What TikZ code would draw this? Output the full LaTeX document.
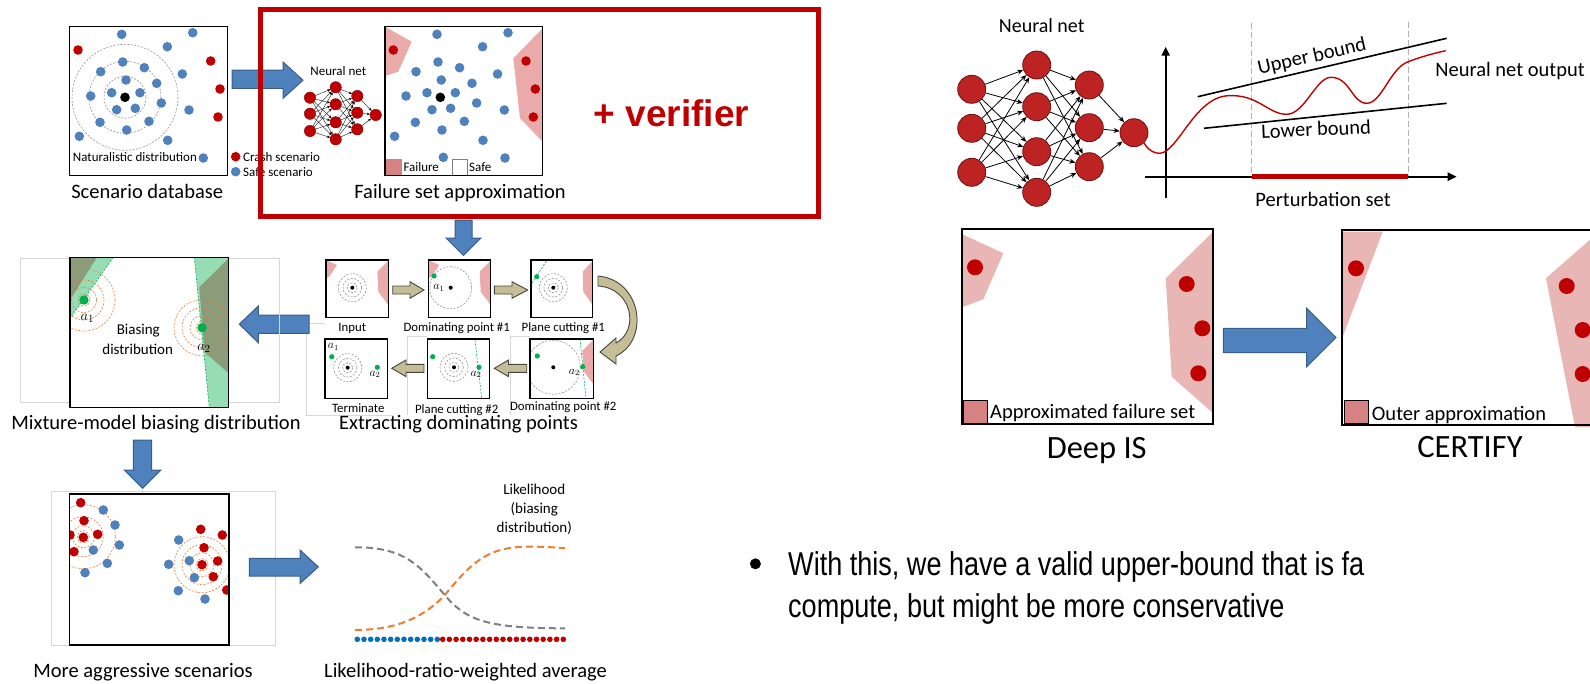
\documentclass[tikz,border=0pt]{standalone}
\usepackage{fontspec}
\setmainfont{Carlito}
\newfontfamily\arialf{Liberation Sans}
\usetikzlibrary{arrows.meta}
\definecolor{dblue}{RGB}{79,129,189}
\definecolor{dred}{RGB}{192,0,0}
\definecolor{pinkf}{RGB}{234,170,170}
\definecolor{pinkr}{RGB}{232,182,180}
\definecolor{pinkl}{RGB}{214,130,130}
\definecolor{aedge}{RGB}{56,93,138}
\definecolor{khaki}{RGB}{196,189,151}
\definecolor{khakiedge}{RGB}{70,70,60}
\definecolor{nnred}{RGB}{190,35,35}
\definecolor{nnborder}{RGB}{110,15,15}
\definecolor{glight}{RGB}{150,220,180}
\definecolor{gdark}{RGB}{138,156,122}
\definecolor{gdot}{RGB}{0,176,80}
\definecolor{orng}{RGB}{237,125,49}
\definecolor{frameg}{RGB}{215,215,215}
\definecolor{rowblue}{RGB}{0,112,192}
\newcommand\fsz[1]{\fontsize{#1}{#1}\selectfont}
\begin{document}
\begin{tikzpicture}[x=1pt,y=-1pt,
 cdash/.style={draw=gray!85, line width=0.6, dash pattern=on 2pt off 1.5pt},
 odash/.style={draw=orng, line width=0.6, dash pattern=on 2pt off 1.5pt},
 gline/.style={draw=gdot, line width=0.6, dash pattern=on 2pt off 1.5pt},
 box/.style={draw=black, line width=1.4},
 sbox/.style={draw=black, line width=1.2},
 frame/.style={draw=frameg, line width=0.7},
 barrow/.style={fill=dblue, draw=aedge, line width=1},
 karrow/.style={fill=khaki, draw=khakiedge, line width=0.9},
 lbl/.style={inner sep=0, anchor=base},
 nn/.style={circle, fill=dred, draw=dred!70!black, line width=0.4, inner sep=0, minimum size=11.4},
 bignn/.style={circle, fill=nnred, draw=nnborder, line width=0.8, inner sep=0, minimum size=28},
 nnline/.style={draw=black, line width=0.35, -{Stealth[length=3pt,width=2.6pt]}},
 bnnline/.style={draw=black, line width=0.8, -{Stealth[length=6pt,width=5pt]}},
]
\useasboundingbox (0,0) rectangle (1590,683);
\clip (0,0) rectangle (1590,683);

% ================= Scenario database
\fill[white] (69.3,26.7) rectangle (227.7,175.7);
\foreach \r in {21,36,53} \draw[cdash] (125,97.3) circle[radius=\r];
\foreach \p in {(121.7,34.3),(192.7,32.7),(167.3,46.7),(122.7,62),(100.7,71.7),(144.3,67.7),(182.3,74),(126,80),(156.7,83.3),(111.7,92.7),(140,92.7),(90.7,96),(161.3,103),(116.7,109.7),(135.3,108.3),(189,110),(100,122.3),(149,121.3),(126.7,130),(79.3,136.3),(167.7,140.3),(203.3,158)}
  \fill[dblue] \p circle[radius=4.8];
\foreach \p in {(78,50),(210.7,61),(220,89),(218,117)} \fill[dred] \p circle[radius=4.8];
\fill[black] (125,97.3) circle[radius=4.8];
\node[lbl, anchor=base west, font=\fsz{13}] (natdist) at (72.7,161) {Naturalistic distribution};
\draw[box] (69.3,26.7) rectangle (227.7,175.7);
\fill[dred] (235.7,156.7) circle[radius=4.8];
\fill[dblue] (235.7,171.7) circle[radius=4.8];
\node[lbl, anchor=base west, font=\fsz{13}] (crash) at (243,161.3) {Crash scenario};
\node[lbl, anchor=base west, font=\fsz{13}] (safesc) at (243,176) {Safe scenario};
\node[lbl, font=\fsz{20.5}] (scdb) at (147.2,198) {Scenario database};

\draw[barrow] (232,70) -- (283,70) -- (283,62) -- (303,80.2) -- (283,98.3) -- (283,88.3) -- (232,88.3) -- cycle;

% ================= small neural net
\node[lbl, font=\fsz{13}] (nnlab) at (338.3,75) {Neural net};
\foreach \i/\y in {1/97.7,2/113.7,3/131} \node[nn] (a\i) at (310,\y) {};
\foreach \i/\y in {1/87.3,2/104.3,3/122.3,4/139.3} \node[nn] (b\i) at (335.7,\y) {};
\foreach \i/\y in {1/96,2/112.7,3/129.3} \node[nn] (c\i) at (357.3,\y) {};
\node[nn] (d1) at (375.7,115) {};
\foreach \i in {1,2,3} \foreach \j in {1,2,3,4} \draw[nnline] (a\i) -- (b\j);
\foreach \i in {1,2,3,4} \foreach \j in {1,2,3} \draw[nnline] (b\i) -- (c\j);
\foreach \i in {1,2,3} \draw[nnline] (c\i) -- (d1);

% ================= Failure set approximation
\fill[white] (385,26.7) rectangle (542.7,175.7);
\fill[pinkf] (385,26.7) -- (411.7,41.7) -- (398.3,71.7) -- (385,76) -- cycle;
\fill[pinkf] (542.7,28.3) -- (513.3,58.3) -- (520,118.3) -- (542.7,141.7) -- cycle;
\begin{scope}[shift={(315.3,0)}]
\foreach \p in {(121.7,34.3),(192.7,32.7),(167.3,46.7),(122.7,62),(100.7,71.7),(144.3,67.7),(182.3,74),(126,80),(156.7,83.3),(111.7,92.7),(140,92.7),(90.7,96),(161.3,103),(116.7,109.7),(135.3,108.3),(189,110),(100,122.3),(149,121.3),(126.7,130),(79.3,136.3),(167.7,140.3)}
  \fill[dblue] \p circle[radius=4.8];
\foreach \p in {(78,50),(210.7,61),(220,89),(218,117)} \fill[dred] \p circle[radius=4.8];
\fill[black] (125,97.3) circle[radius=4.8];
\end{scope}
\fill[dblue] (443.3,157.3) circle[radius=4.8];
\fill[dblue] (505,158) circle[radius=4.8];
\fill[pinkl] (386,159.3) rectangle (401.7,175);
\draw[gray, line width=0.8, fill=white] (452.7,159.3) rectangle (467.3,175);
\node[lbl, anchor=base west, font=\fsz{13}] (failleg) at (403.3,171) {Failure};
\node[lbl, anchor=base west, font=\fsz{13}] (safeleg) at (469,171) {Safe};
\draw[box] (385,26.7) rectangle (542.7,175.7);
\node[lbl, font=\fsz{20.5}] (fsa) at (460,198) {Failure set approximation};

% ================= verifier box
\draw[dred, line width=5] (260.5,9) rectangle (818,216.5);
\node[lbl, font=\arialf\bfseries\fsz{37}, text=dred] (verif) at (671.5,126) {+ verifier};

\draw[barrow] (455,220) -- (472,220) -- (472,238) -- (481,238) -- (463.5,255.5) -- (446,238) -- (455,238) -- cycle;

% ================= Extracting dominating points
\draw[frame] (325,323.3) -- (306.7,323.3) -- (306.7,415) -- (393,415);
\draw[frame] (427.3,336.7) -- (407.3,336.7) -- (407.3,415);
\draw[frame] (530,336.7) -- (510,336.7) -- (510,415);

% Input
\begin{scope}[shift={(326,260)}]
\fill[white] (0,0) rectangle (62.3,57.7);
\fill[pinkf] (0,0) -- (11,5) -- (3,17) -- (0,18) -- cycle;
\fill[pinkf] (62.3,0.7) -- (51.3,11.7) -- (52.3,31.7) -- (62.3,45) -- cycle;
\foreach \r in {14,9.3,5} \draw[cdash] (26.3,27.7) circle[radius=\r];
\fill (26.3,27.7) circle[radius=2];
\draw[sbox] (0,0) rectangle (62.3,57.7);
\end{scope}
% Dominating point #1
\begin{scope}[shift={(428.3,260)}]
\fill[white] (0,0) rectangle (62.4,57.7);
\fill[pinkf] (0,0) -- (11,5) -- (3,17) -- (0,18) -- cycle;
\fill[pinkf] (62.4,0.7) -- (51.4,11.7) -- (52.4,31.7) -- (62.4,45) -- cycle;
\begin{scope}\clip (0,0) rectangle (62.4,57.7);
\draw[cdash] (22.4,27.7) circle[radius=21];
\end{scope}
\fill (22.4,27.7) circle[radius=2];
\fill[gdot] (5.7,16) circle[radius=2.6];
\node[inner sep=0, font=\fsz{12}] (da1) at (10.5,27.7) {$a_1$};
\draw[sbox] (0,0) rectangle (62.4,57.7);
\end{scope}
% Plane cutting #1
\begin{scope}[shift={(531,260)}]
\fill[white] (0,0) rectangle (61.7,57.7);
\fill[pinkf] (61.7,0.7) -- (51.7,11.7) -- (52.3,31.7) -- (61.7,45) -- cycle;
\draw[gline] (0.7,23.3) -- (15.7,0.7);
\fill[gdot] (5.7,16.7) circle[radius=2.6];
\foreach \r in {14,9.3,5} \draw[cdash] (22.3,27.7) circle[radius=\r];
\fill (22.3,27.7) circle[radius=2];
\draw[sbox] (0,0) rectangle (61.7,57.7);
\end{scope}
% Terminate
\begin{scope}[shift={(325,339)}]
\fill[white] (0,0) rectangle (62.7,59.3);
\node[inner sep=0, font=\fsz{12}] (ta1) at (8.3,8.3) {$a_1$};
\fill[gdot] (6.7,17.7) circle[radius=2.6];
\foreach \r in {14,9.3,5} \draw[cdash] (22.7,28.7) circle[radius=\r];
\fill (22.7,28.7) circle[radius=2];
\fill[gdot] (52.3,28.3) circle[radius=2.6];
\node[inner sep=0, font=\fsz{12}] (ta2) at (50,35.5) {$a_2$};
\draw[sbox] (0,0) rectangle (62.7,59.3);
\end{scope}
% Plane cutting #2
\begin{scope}[shift={(427.3,339)}]
\fill[white] (0,0) rectangle (62,59.3);
\fill[gdot] (5.4,17.7) circle[radius=2.6];
\foreach \r in {14,9.3,5} \draw[cdash] (26.7,28.3) circle[radius=\r];
\fill (26.7,28.3) circle[radius=2];
\draw[gline] (47.7,1) -- (54.4,59.3);
\fill[gdot] (51.7,28.3) circle[radius=2.6];
\node[inner sep=0, font=\fsz{12}] (pa2) at (48.7,35.5) {$a_2$};
\draw[sbox] (0,0) rectangle (62,59.3);
\end{scope}
% Dominating point #2
\begin{scope}[shift={(530,339)}]
\fill[white] (0,0) rectangle (63.3,59.3);
\fill[pinkf] (63.3,0.7) -- (52.3,11.7) -- (53.3,31.7) -- (63.3,45) -- cycle;
\begin{scope}\clip (0,0) rectangle (63.3,59.3);
\draw[cdash] (23.3,28.3) circle[radius=27];
\end{scope}
\fill (23.3,28.3) circle[radius=2];
\fill[gdot] (7.3,17) circle[radius=2.6];
\draw[gline] (50,0) -- (56,59.3);
\fill[gdot] (52.7,27.7) circle[radius=2.6];
\node[inner sep=0, font=\fsz{12}] (qa2) at (44.3,33.5) {$a_2$};
\draw[sbox] (0,0) rectangle (63.3,59.3);
\end{scope}

\node[lbl, font=\fsz{12.8}] (linput) at (352.3,331.5) {Input};
\node[lbl, font=\fsz{12.8}] (ldom1) at (456.7,331.5) {Dominating point \#1};
\node[lbl, font=\fsz{12.8}] (lpc1) at (563.3,331.5) {Plane cutting \#1};
\node[lbl, font=\fsz{12.8}] (lterm) at (358.3,412.3) {Terminate};
\node[lbl, font=\fsz{12.8}] (lpc2) at (456.7,413.3) {Plane cutting \#2};
\node[lbl, font=\fsz{12.8}] (ldom2) at (563.3,410.8) {Dominating point \#2};
\node[lbl, font=\fsz{20.5}] (lextract) at (458.5,429.5) {Extracting dominating points};

% khaki arrows
\draw[karrow] (392.7,286) -- (410,286) -- (410,281.7) -- (424,290) -- (410,298.3) -- (410,294) -- (392.7,294) -- cycle;
\draw[karrow] (494.3,286) -- (512,286) -- (512,281.7) -- (527.7,290) -- (512,298.3) -- (512,294) -- (494.3,294) -- cycle;
\draw[karrow] (526.7,364.3) -- (508.5,364.3) -- (508.5,360) -- (494.3,368.3) -- (508.5,376.6) -- (508.5,372.3) -- (526.7,372.3) -- cycle;
\draw[karrow] (424,364.3) -- (406,364.3) -- (406,360) -- (391.7,368.3) -- (406,376.6) -- (406,372.3) -- (424,372.3) -- cycle;
% curved arrow
\draw[karrow] (598,286) .. controls (632,288) and (640,330) .. (616,343) -- (616,338) -- (600,352) -- (616,364) -- (616,356) .. controls (650,340) and (642,280) .. (598,276) -- cycle;

% left arrow to biasing distribution
\draw[barrow] (309,315) -- (258.3,315) -- (258.3,306) -- (239.3,324.2) -- (258.3,342.7) -- (258.3,333.3) -- (309,333.3) -- cycle;

% ================= Mixture-model biasing distribution
\draw[frame] (20.7,258.3) rectangle (279.3,402.7);
\fill[white] (70,257.3) rectangle (228.7,407.3);
\begin{scope}
\clip (70,257.3) rectangle (228.7,407.3);
\fill[glight] (70,257.3) -- (113.3,257.3) -- (70,318.3) -- cycle;
\fill[gdark] (70,257.3) -- (97,257.3) -- (70,300) -- cycle;
\fill[glight] (194.3,257.3) -- (228.7,257.3) -- (228.7,407.3) -- (209.3,407.3) -- cycle;
\fill[gdark] (199.3,287.3) -- (228.7,258.3) -- (228.7,373.3) -- (204.5,352) -- cycle;
\draw[gline] (113.3,257.3) -- (70,318.3);
\draw[gline] (194.3,257.3) -- (209.3,407.3);
\foreach \r in {31,20,12.7,6} \draw[odash] (84,300) circle[radius=\r];
\foreach \r in {28,20,12,6} \draw[odash] (202,327.7) circle[radius=\r];
\end{scope}
\fill[gdot] (84,300) circle[radius=4.7];
\fill[gdot] (202,327.7) circle[radius=4.7];
\node[inner sep=0, font=\fsz{15}] (ba1) at (87.3,318.3) {$a_1$};
\node[inner sep=0, font=\fsz{15}] (ba2) at (204,348.3) {$a_2$};
\node[lbl, font=\fsz{15}] (lbias1) at (138.3,334.8) {Biasing};
\node[lbl, font=\fsz{15}] (lbias2) at (137.7,354.2) {distribution};
\draw[box] (70,257.3) rectangle (228.7,407.3);
\node[lbl, font=\fsz{20.5}] (lmix) at (156,429.5) {Mixture-model biasing distribution};

\draw[barrow] (133.3,440) -- (151.7,440) -- (151.7,470) -- (161,470) -- (142.7,488.3) -- (124.3,470) -- (133.3,470) -- cycle;

% ================= More aggressive scenarios
\draw[frame] (51.7,491) rectangle (275,645);
\fill[white] (69.3,494) rectangle (229,645);
\begin{scope}
\clip (69.3,494) rectangle (229,645);
\foreach \r in {32,20,11,6} \draw[odash] (83.3,536.7) circle[radius=\r];
\foreach \r in {28,20,12,6} \draw[odash] (202,564.7) circle[radius=\r];
\foreach \p in {(103.3,510),(115,525),(119.3,545),(93.3,550),(107.3,563.3),(85,572.7),(178.7,540),(189.3,560.7),(168.7,564.3),(194.3,577.7),(178.3,590.7),(205,599)}
  \fill[dblue] \p circle[radius=4.8];
\foreach \p in {(80.7,502.7),(84,520.7),(70,535),(97.7,534.3),(83.3,537.3),(74,551.7),(200.7,529.3),(222.3,535),(204,547.7),(217.7,561),(202,564.7),(213.3,576.7),(226.7,590)}
  \fill[dred] \p circle[radius=4.8];
\end{scope}
\draw[box] (69.3,494) rectangle (229,645);
\node[lbl, font=\fsz{20.5}] (laggr) at (143,677) {More aggressive scenarios};

\draw[barrow] (249.3,558.3) -- (300,558.3) -- (300,550) -- (318.3,566.9) -- (300,583.5) -- (300,576) -- (249.3,576) -- cycle;

% ================= Likelihood plot
\draw[gray, line width=2, dash pattern=on 7pt off 4pt] (355,547.3) .. controls (405,547) and (420,566) .. (443.3,593.3) .. controls (465,620) and (485,628.3) .. (565,628.3);
\draw[orng, line width=2, dash pattern=on 7pt off 4pt] (355,630) .. controls (400,630) and (425,615) .. (443.3,596.7) .. controls (470,565) and (485,547) .. (526.7,546.7) .. controls (545,546.5) and (555,547.5) .. (565,548.3);
\foreach \k in {0,...,12} \fill[rowblue] (357.3+6.667*\k,639.3) circle[radius=2.8];
\foreach \k in {0,...,18} \fill[dred] (442.7+6.7*\k,639.3) circle[radius=2.8];
\node[lbl, font=\fsz{15}] (lik1) at (534.3,494.5) {Likelihood};
\node[lbl, font=\fsz{15}] (lik2) at (534.3,513.5) {(biasing};
\node[lbl, font=\fsz{15}] (lik3) at (534.3,532.5) {distribution)};
\node[lbl, font=\fsz{20.5}] (llr) at (465.5,677) {Likelihood-ratio-weighted average};

% ================= Right: neural net and bounds
\node[lbl, font=\fsz{20}] (rnnlab) at (1041.7,32.5) {Neural net};
\foreach \i/\y in {1/89.3,2/128.3,3/172.3} \node[bignn] (p\i) at (971.7,\y) {};
\foreach \i/\y in {1/65,2/106.7,3/151.7,4/192.3} \node[bignn] (q\i) at (1036.7,\y) {};
\foreach \i/\y in {1/85,2/127.7,3/166.7} \node[bignn] (r\i) at (1089.3,\y) {};
\node[bignn] (s1) at (1134,132.7) {};
\foreach \i in {1,2,3} \foreach \j in {1,2,3,4} \draw[bnnline] (p\i) -- (q\j);
\foreach \i in {1,2,3,4} \foreach \j in {1,2,3} \draw[bnnline] (q\i) -- (r\j);
\foreach \i in {1,2,3} \draw[bnnline] (r\i) -- (s1);

\draw[gray!60, line width=1.2, dash pattern=on 6pt off 3pt] (1251.7,23.3) -- (1251.7,176.7);
\draw[gray!60, line width=1.2, dash pattern=on 6pt off 3pt] (1408.3,21.7) -- (1408.3,176.7);
\draw[black, line width=2.2, -{Triangle[length=9pt,width=8pt]}] (1165.7,198.3) -- (1165.7,46.7);
\draw[black, line width=2.2, -{Triangle[length=9pt,width=8pt]}] (1145,176.7) -- (1456.7,176.7);
\draw[dred, line width=4.5] (1251.7,176.7) -- (1408.3,176.7);
\draw[black, line width=1.6] (1197.7,96.7) -- (1446.7,38.3);
\draw[black, line width=1.6] (1204,128.3) -- (1446.7,103.3);
\draw[dred, line width=1.4] (s1.south east) .. controls (1145,145) and (1150,153.3) .. (1160,153.3) .. controls (1178,152) and (1195,97) .. (1228.3,95.7) .. controls (1258,94) and (1268,114.3) .. (1286.7,114.3) .. controls (1305,114) and (1316,77.3) .. (1331,77.3) .. controls (1350,77.3) and (1352,103.3) .. (1366.7,103.3) .. controls (1382,103) and (1390,68) .. (1408.3,61.7) .. controls (1420,57) and (1435,53) .. (1445.7,50.7);
\node[inner sep=0, font=\fsz{20.5}, rotate=13] (lub) at (1312,57) {Upper bound};
\node[inner sep=0, font=\fsz{20.5}, rotate=2.6] (llb) at (1316,129) {Lower bound};
\node[lbl, font=\fsz{20.5}] (lnno) at (1510,76.5) {Neural net output};
\node[lbl, font=\fsz{20.5}] (lpert) at (1323,206.5) {Perturbation set};

% ================= Deep IS
\fill[white] (961.7,229) rectangle (1213.3,424);
\fill[pinkr] (961.7,234) -- (1003.3,253.3) -- (983.3,299.3) -- (961.7,307.3) -- cycle;
\fill[pinkr] (1213.3,231.7) -- (1165.7,278.3) -- (1171.7,376.7) -- (1213.3,413.3) -- cycle;
\foreach \p in {(975,267.3),(1186.7,284),(1202.3,328.3),(1198.3,373.3)} \fill[dred] \p circle[radius=8];
\draw[black, line width=0.8, fill=pinkl] (963.3,400) rectangle (987.3,423.3);
\node[lbl, anchor=base west, font=\fsz{20.5}] (lafs) at (990,418.5) {Approximated failure set};
\draw[black, line width=2] (961.7,229) rectangle (1213.3,424);
\node[lbl, font=\fsz{32.5}] (ldeep) at (1096.7,458.5) {Deep IS};

\draw[barrow] (1223.3,328.3) -- (1306.7,328.3) -- (1306.7,308.3) -- (1336,337.5) -- (1306.7,366.7) -- (1306.7,352.7) -- (1223.3,352.7) -- cycle;

% ================= CERTIFY
\fill[white] (1341.7,230) rectangle (1600,425);
\fill[pinkr] (1342.7,231.7) -- (1382.7,231.7) -- (1342.7,336.7) -- cycle;
\fill[pinkr] (1600,231) -- (1546,278.3) -- (1575,427) -- (1600,427) -- cycle;
\foreach \p in {(1356,268.3),(1566.7,286),(1582.7,330),(1582.7,374)} \fill[dred] \p circle[radius=8];
\draw[black, line width=0.8, fill=pinkl] (1344.3,400) rectangle (1368.3,423.3);
\node[lbl, anchor=base west, font=\fsz{20.5}] (louter) at (1371.7,420) {Outer approximation};
\draw[black, line width=2] (1341.7,230) rectangle (1600,425);
\node[lbl, font=\fsz{32.5}] (lcert) at (1470,457.5) {CERTIFY};

% ================= bullet text
\fill (755.4,563.8) circle[radius=5.5];
\node[lbl, anchor=base west, font=\arialf\fsz{33}] (bul1) at (788,575) {\scalebox{0.82}[1]{With this, we have a valid upper-bound that is fa}};
\node[lbl, anchor=base west, font=\arialf\fsz{33}] (bul2) at (788,617) {\scalebox{0.82}[1]{compute, but might be more conservative}};
\end{tikzpicture}
\end{document}
